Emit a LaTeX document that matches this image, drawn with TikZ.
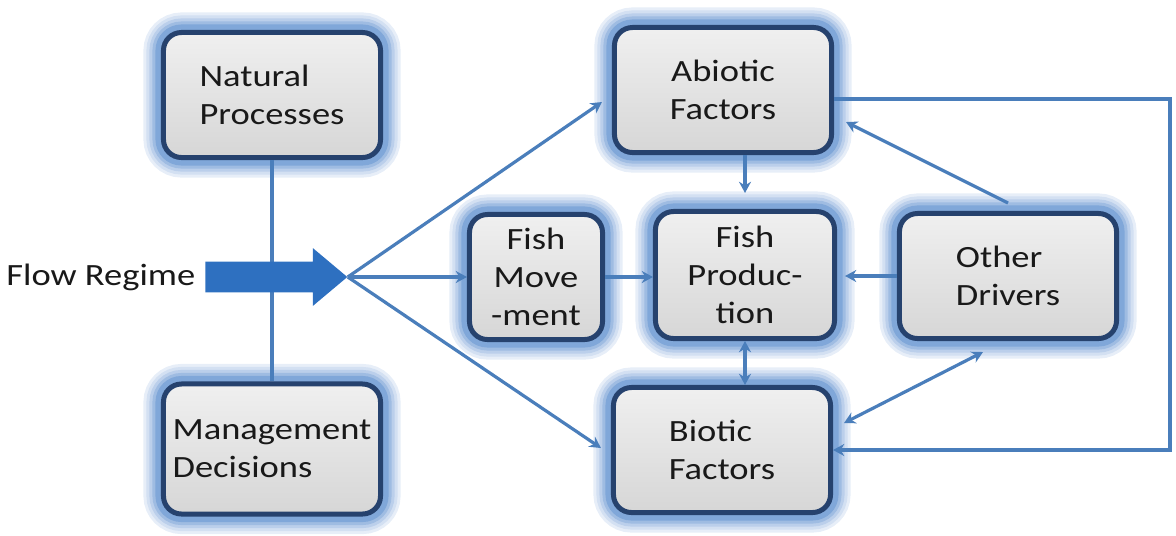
\documentclass[tikz,border=0pt]{standalone}
\usepackage{fontspec}
\setmainfont{Carlito}[FakeStretch=1.18]
\usetikzlibrary{positioning,arrows.meta,calc,shapes.arrows}

\definecolor{linkblue}{RGB}{74,126,187}
\definecolor{glowblue}{RGB}{84,136,204}
\definecolor{edgenavy}{RGB}{38,66,110}
\definecolor{flowblue}{RGB}{46,112,192}
\definecolor{textgray}{RGB}{25,25,25}

\begin{document}
\begin{tikzpicture}[
    x=0.025cm, y=-0.025cm,
    >={Stealth[length=0.28cm,width=0.3cm]},
    box/.style={
        rounded corners=0.45cm,
        draw=edgenavy,
        line width=0.125cm,
        top color=white!94!black,
        bottom color=white!84!black,
        preaction={draw=glowblue!14, line width=1.0cm},
        preaction={draw=glowblue!26, line width=0.85cm},
        preaction={draw=glowblue!40, line width=0.7cm},
        preaction={draw=glowblue!56, line width=0.55cm},
        preaction={draw=glowblue!74, line width=0.4cm},
        align=center,
        text=textgray,
        minimum width=5.425cm,
        minimum height=3.125cm,
        inner sep=2pt,
        font=\fontsize{22pt}{27pt}\selectfont
    },
    link/.style={draw=linkblue, line width=0.08cm}
]
    \useasboundingbox (0,0) rectangle (1176,535);

    % Left column: what shapes the flow
    \node[box, align=left] (natural) at (272,95) {Natural\\Processes};
    \node[box, align=left, minimum height=3.25cm] (management) at (272,449) {Management\\Decisions};

    % Middle and right: the factors around fish production
    \node[box] (abiotic) at (723,90) {Abiotic\\Factors};
    \node[box, minimum width=3.325cm] (fishmove) at (536,277) {Fish\\Move\\-ment};
    \node[box, minimum width=4.475cm, minimum height=3.175cm] (fishprod) at (745,275) {Fish\\Produc-\\tion};
    \node[box, align=left] (other) at (1008,276) {Other\\Drivers};
    \node[box, align=left] (biotic) at (722,450) {Biotic\\Factors};

    % Tie between the two left boxes, behind the big arrow
    \draw[link] (natural) -- (management);

    % Flow regime arrow
    \node[single arrow, fill=flowblue, draw=none, anchor=tail,
          minimum height=3.55cm, inner xsep=0pt, inner ysep=0.375cm,
          single arrow head extend=0.34cm, single arrow tip angle=80] (flow) at (205,277) {};
    \node[left=0.12cm of flow.tail, text=textgray,
          font=\fontsize{22pt}{27pt}\selectfont] (flowlabel) {Flow Regime};

    % From the flow regime to the factors
    \draw[link,->] (flow.tip) -- ($(abiotic.west)+(-10,12)$);
    \draw[link,->] (flow.tip) -- (fishmove.west);
    \draw[link,->] (flow.tip) -- ($(biotic.west)+(-10,-2)$);

    % Into fish production
    \draw[link,->] (fishmove.east) -- (fishmove.east -| fishprod.west);
    \draw[link,->] (abiotic.south -| fishprod.north) -- ($(fishprod.north)+(0,-16)$);
    \draw[link,->] (other.west) -- ($(other.west -| fishprod.east)+(8,0)$);
    \draw[link,<->] (fishprod.south) -- (fishprod.south |- biotic.north);

    % Other drivers and the feedback loop
    \draw[link,->] ($(other.north)+(0,-8)$) -- ($(abiotic.east)+(12,32)$);
    \draw[link,<->] ($(biotic.east)+(11,-27)$) -- ($(other.south)+(-25,11)$);
    \draw[link,->] ($(abiotic.east)+(0,9)$) -| ($(biotic.east)+(337,0)$) -- (biotic.east);
\end{tikzpicture}
\end{document}
